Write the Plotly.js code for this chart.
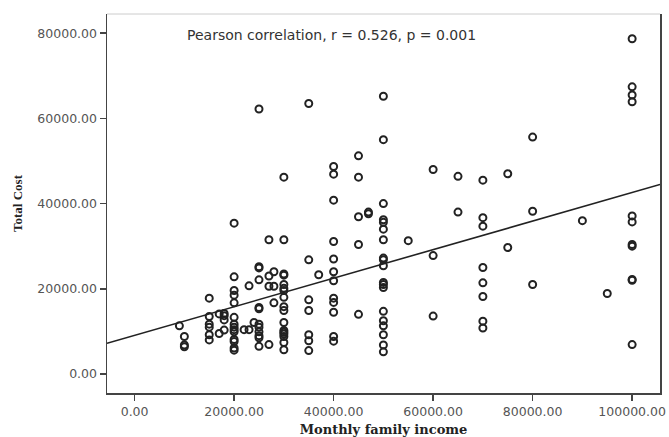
<!DOCTYPE html>
<html>
<head>
<meta charset="utf-8">
<script src="https://cdn.plot.ly/plotly-3.0.1.min.js"></script>
<style>html,body{margin:0;padding:0;background:#fff;}#chart{width:669px;height:437px;}</style>
</head>
<body>
<div id="chart"></div>
<script>
// Monthly family income (x) and Total Cost (y)
const income = [
  9000,
  10000, 10000, 10000,
  15000, 15000, 15000, 15000, 15000, 15000,
  17000, 17000,
  18000, 18000, 18000, 18000,
  20000, 20000, 20000, 20000, 20000, 20000, 20000, 20000, 20000, 20000, 20000, 20000, 20000, 20000,
  22000,
  23000, 23000,
  24000,
  25000, 25000, 25000, 25000, 25000, 25000, 25000, 25000, 25000, 25000, 25000, 25000,
  27000, 27000, 27000, 27000,
  28000, 28000, 28000,
  30000, 30000, 30000, 30000, 30000, 30000, 30000, 30000, 30000, 30000, 30000, 30000, 30000, 30000, 30000, 30000, 30000,
  35000, 35000, 35000, 35000, 35000, 35000, 35000,
  37000,
  40000, 40000, 40000, 40000, 40000, 40000, 40000, 40000, 40000, 40000, 40000, 40000,
  45000, 45000, 45000, 45000, 45000,
  47000, 47000,
  50000, 50000, 50000, 50000, 50000, 50000, 50000, 50000, 50000, 50000, 50000, 50000, 50000, 50000, 50000, 50000, 50000, 50000, 50000,
  55000,
  60000, 60000, 60000,
  65000, 65000,
  70000, 70000, 70000, 70000, 70000, 70000, 70000, 70000,
  75000, 75000,
  80000, 80000, 80000,
  90000,
  95000,
  100000, 100000, 100000, 100000, 100000, 100000, 100000, 100000, 100000, 100000, 100000
];
const totalCost = [
  11300,
  8800, 6800, 6400,
  17800, 13500, 11700, 11000, 9200, 8000,
  14100, 9500,
  14200, 13700, 12700, 10300,
  35400, 22800, 19600, 18500, 16700, 13300, 11700, 11000, 10400, 9900, 8100, 7600, 6100, 5600,
  10400,
  20700, 10400,
  12100,
  62200, 25200, 24900, 22100, 15600, 15300, 11700, 11000, 9900, 9000, 8500, 6500,
  31500, 23000, 20600, 6900,
  24000, 20600, 16700,
  46200, 31500, 23500, 23200, 21000, 20100, 19600, 18000, 15800, 14900, 12100, 10200, 9800, 9400, 8800, 7400, 5700,
  63500, 26800, 17400, 14900, 9200, 7800, 5500,
  23300,
  48700, 46900, 40800, 31100, 27000, 24000, 21900, 17800, 16800, 14500, 8800, 7700,
  51200, 46200, 36900, 30400, 14000,
  38000, 37600,
  65200, 55000, 40000, 36200, 35600, 34000, 31500, 27200, 26800, 25400, 21500, 21000, 20300, 14700, 12500, 11300, 9200, 6800, 5200,
  31300,
  48000, 27800, 13600,
  46400, 38000,
  45500, 36700, 34700, 25000, 21400, 18200, 12400, 10800,
  47000, 29700,
  55600, 38200, 21000,
  36000,
  18900,
  78700, 67400, 65500, 63900, 37100, 35700, 30400, 30000, 22200, 22000, 6900
];
const xTickVals = [0, 20000, 40000, 60000, 80000, 100000];
const xTickText = ["0.00", "20000.00", "40000.00", "60000.00", "80000.00", "100000.00"];
const yTickVals = [0, 20000, 40000, 60000, 80000];
const yTickText = ["0.00", "20000.00", "40000.00", "60000.00", "80000.00"];
const xRange = [-5550, 105600];
const yRange = [-4460, 84500];
const annotationText = "Pearson correlation, r = 0.526, p = 0.001";

// least-squares fit line from the data
const n = income.length;
const mx = income.reduce((a, b) => a + b, 0) / n;
const my = totalCost.reduce((a, b) => a + b, 0) / n;
let sxy = 0, sxx = 0;
for (let i = 0; i < n; i++) { sxy += (income[i] - mx) * (totalCost[i] - my); sxx += (income[i] - mx) ** 2; }
const slope = sxy / sxx;
const intercept = my - slope * mx;
const fitX = xRange.slice();
const fitY = fitX.map(x => intercept + slope * x);

const traces = [
  {
    x: fitX, y: fitY, type: 'scatter', mode: 'lines',
    line: { color: '#222', width: 1.6 }, hoverinfo: 'skip', showlegend: false, cliponaxis: true
  },
  {
    x: income, y: totalCost, type: 'scatter', mode: 'markers',
    marker: { symbol: 'circle-open', size: 7, color: '#222', line: { width: 2, color: '#222' } },
    showlegend: false, cliponaxis: true
  }
];

const layout = {
  width: 669, height: 437,
  margin: { l: 107, r: 9, t: 14, b: 44 },
  paper_bgcolor: '#fff', plot_bgcolor: '#fff',
  showlegend: false,
  xaxis: {
    range: xRange, tickvals: xTickVals, ticktext: xTickText,
    showgrid: false, zeroline: false, showline: true, linecolor: '#444', linewidth: 1.5,
    ticks: 'outside', ticklen: 6, tickcolor: '#444', tickwidth: 1.5,
    tickfont: { family: 'DejaVu Sans, sans-serif', size: 12.5, color: '#555' },
    title: { text: 'Monthly family income', standoff: 8,
      font: { family: 'DejaVu Serif, serif', size: 13, color: '#222', weight: 'bold' } }
  },
  yaxis: {
    range: yRange, tickvals: yTickVals, ticktext: yTickText,
    showgrid: false, zeroline: false, showline: true, linecolor: '#444', linewidth: 1.5, mirror: true,
    ticks: 'outside', ticklen: 6, tickcolor: '#444', tickwidth: 1.5,
    tickfont: { family: 'DejaVu Sans, sans-serif', size: 12.5, color: '#555' },
    title: { text: 'Total Cost', standoff: 12,
      font: { family: 'Liberation Serif, Times New Roman, serif', size: 13, color: '#222', weight: 'bold' } }
  },
  shapes: [
    { type: 'line', xref: 'paper', yref: 'paper', x0: 0, x1: 1, y0: 1, y1: 1, line: { color: '#ccc', width: 1 } }
  ],
  annotations: [
    { text: annotationText, xref: 'paper', yref: 'paper', x: (185 - 107) / 552, y: 1 - (35 - 14) / 379,
      xanchor: 'left', yanchor: 'middle', showarrow: false,
      font: { family: 'DejaVu Sans, sans-serif', size: 14, color: '#333' } }
  ]
};

Plotly.newPlot('chart', traces, layout, { displayModeBar: false, staticPlot: true });
</script>
</body>
</html>
